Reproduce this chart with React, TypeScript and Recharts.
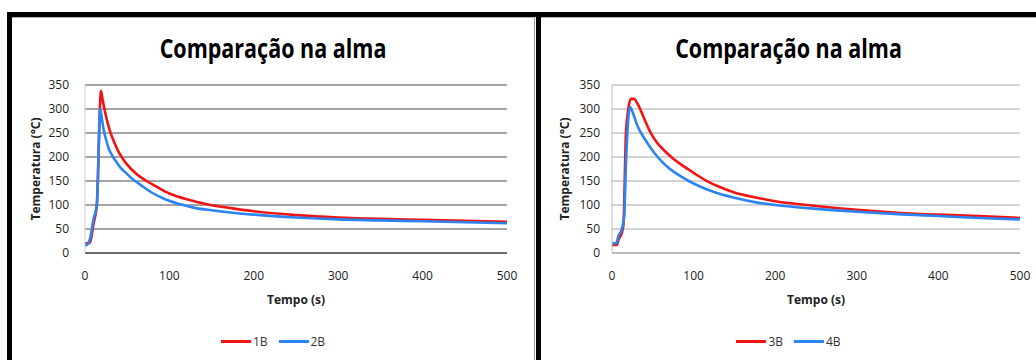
import { LineChart, Line, XAxis, YAxis, CartesianGrid } from 'recharts'

// time (s) / temperature (°C)
const time1B = [0, 3, 6, 10, 14, 19, 21, 24, 27, 30, 35, 40, 45, 50, 60, 73, 85, 100, 125, 146, 175, 200, 250, 300, 350, 400, 450, 500]
const temp1B = [20, 20, 22, 60, 100, 338, 318, 292, 270, 252, 229, 210, 196, 184, 166, 150, 138, 124, 110, 101, 93, 87, 79, 74, 71, 69, 67, 65]

const time2B = [0, 3, 6, 10, 14, 18, 20, 22, 25, 28, 32, 37, 42, 49, 55, 65, 80, 95, 112, 130, 150, 175, 200, 250, 300, 350, 400, 450, 500]
const temp2B = [15, 18, 30, 70, 100, 300, 280, 258, 236, 218, 204, 190, 178, 166, 156, 143, 125, 112, 102, 94, 89, 84, 80, 74, 70, 68, 66, 64, 62]

const time3B = [0, 6, 8, 12, 14, 17, 20, 23, 27, 31, 36, 41, 46, 55, 65, 74, 85, 100, 114, 130, 150, 175, 200, 250, 300, 350, 400, 450, 500]
const temp3B = [17, 17, 28, 42, 58, 245, 300, 321, 321, 312, 294, 274, 255, 230, 212, 198, 184, 167, 152, 139, 126, 116, 108, 98, 90, 84, 80, 77, 73]

const time4B = [0, 5, 8, 12, 15, 17, 20, 22, 26, 30, 34, 40, 47, 56, 65, 75, 85, 94, 110, 125, 150, 175, 200, 250, 300, 350, 400, 450, 500]
const temp4B = [20, 20, 36, 50, 78, 180, 280, 304, 290, 270, 255, 238, 220, 200, 184, 170, 159, 150, 137, 127, 115, 106, 100, 92, 86, 81, 77, 73, 70]

const xTicks = [0, 100, 200, 300, 400, 500]
const yTicks = [0, 50, 100, 150, 200, 250, 300, 350]

const RED = '#f01414'
const BLUE = '#2b84f2'
const FONT = '"Open Sans", "Liberation Sans", sans-serif'

const toPoints = (ts: number[], vs: number[]) => ts.map((t, i) => ({ t, v: vs[i] }))

interface PanelProps {
  left: number
  width: number
  names: [string, string]
  series: [{ t: number; v: number }[], { t: number; v: number }[]]
  axisX: number
  marginRight: number
  gridColor: string
  xAxisColor: string
  yAxisColor: string
  yTickGap: number
}

function Panel(p: PanelProps) {
  const tick = { fontSize: 12, fill: '#222', fontFamily: FONT }
  return (
    <div style={{ position: 'absolute', left: p.left, top: 17, width: p.width, height: 343 }}>
      <div
        style={{
          position: 'absolute',
          left: 0,
          width: p.width,
          top: 16,
          textAlign: 'center',
          fontFamily: FONT,
          fontWeight: 700,
          fontSize: 21.5,
          color: '#000',
          transform: 'scaleY(1.25)',
        }}
      >
        Comparação na alma
      </div>
      <LineChart
        width={p.width}
        height={343}
        margin={{ top: 68, right: p.marginRight, bottom: 77, left: 0 }}
        style={{ position: 'absolute', left: 0, top: 0 }}
      >
        <CartesianGrid vertical={false} stroke={p.gridColor} strokeWidth={1} />
        <XAxis
          dataKey="t"
          type="number"
          domain={[0, 500]}
          ticks={xTicks}
          height={30}
          tickLine={false}
          tickSize={0}
          tickMargin={18}
          stroke={p.xAxisColor}
          tick={tick}
          label={{
            value: 'Tempo (s)',
            position: 'insideBottom',
            offset: -21,
            style: { fontWeight: 700, fontSize: 12, fill: '#222', fontFamily: FONT },
          }}
        />
        <YAxis
          type="number"
          domain={[0, 350]}
          ticks={yTicks}
          width={p.axisX}
          tickLine={false}
          tickSize={0}
          tickMargin={p.yTickGap}
          stroke={p.yAxisColor}
          tick={tick}
          label={{
            value: 'Temperatura (°C)',
            angle: -90,
            position: 'insideLeft',
            offset: 24,
            style: { textAnchor: 'middle', fontWeight: 700, fontSize: 12, fill: '#222', fontFamily: FONT },
          }}
        />
        <Line data={p.series[0]} dataKey="v" name={p.names[0]} type="monotone" stroke={RED} strokeWidth={2.6} dot={false} isAnimationActive={false} />
        <Line data={p.series[1]} dataKey="v" name={p.names[1]} type="monotone" stroke={BLUE} strokeWidth={2.6} dot={false} isAnimationActive={false} />
      </LineChart>
      <div
        style={{
          position: 'absolute',
          left: 0,
          width: p.width,
          top: 316,
          display: 'flex',
          justifyContent: 'center',
          alignItems: 'center',
          fontFamily: FONT,
          fontSize: 12,
          color: '#333',
        }}
      >
        {p.names.map((n, i) => (
          <div key={n} style={{ display: 'flex', alignItems: 'center', marginRight: i === 0 ? 11 : 0 }}>
            <div style={{ width: 30, height: 3, background: i === 0 ? RED : BLUE, marginRight: 2 }} />
            <span>{n}</span>
          </div>
        ))}
      </div>
    </div>
  )
}

export default function App() {
  return (
    <div style={{ position: 'absolute', left: 0, top: 0, width: 1036, height: 360, background: '#fff', overflow: 'hidden' }}>
      <Panel
        left={12}
        width={522}
        names={['1B', '2B']}
        series={[toPoints(time1B, temp1B), toPoints(time2B, temp2B)]}
        axisX={73}
        marginRight={27}
        gridColor="#4a4a4a"
        xAxisColor="#333"
        yAxisColor="#d0d0d0"
        yTickGap={16}
      />
      <Panel
        left={541}
        width={495}
        names={['3B', '4B']}
        series={[toPoints(time3B, temp3B), toPoints(time4B, temp4B)]}
        axisX={71}
        marginRight={16}
        gridColor="#a8a8a8"
        xAxisColor="#a0a0a0"
        yAxisColor="#bdbdbd"
        yTickGap={12}
      />
      {/* frame */}
      <div style={{ position: 'absolute', left: 12, top: 17, width: 522, height: 1, background: '#b0b0b0' }} />
      <div style={{ position: 'absolute', left: 534, top: 17, width: 1, height: 343, background: '#999' }} />
      <div style={{ position: 'absolute', left: 541, top: 17, width: 495, height: 1, background: '#b0b0b0' }} />
      <div style={{ position: 'absolute', left: 7, top: 12, width: 1029, height: 5, background: '#000' }} />
      <div style={{ position: 'absolute', left: 7, top: 12, width: 5, height: 348, background: '#000' }} />
      <div style={{ position: 'absolute', left: 536, top: 12, width: 5, height: 348, background: '#000' }} />
    </div>
  )
}
